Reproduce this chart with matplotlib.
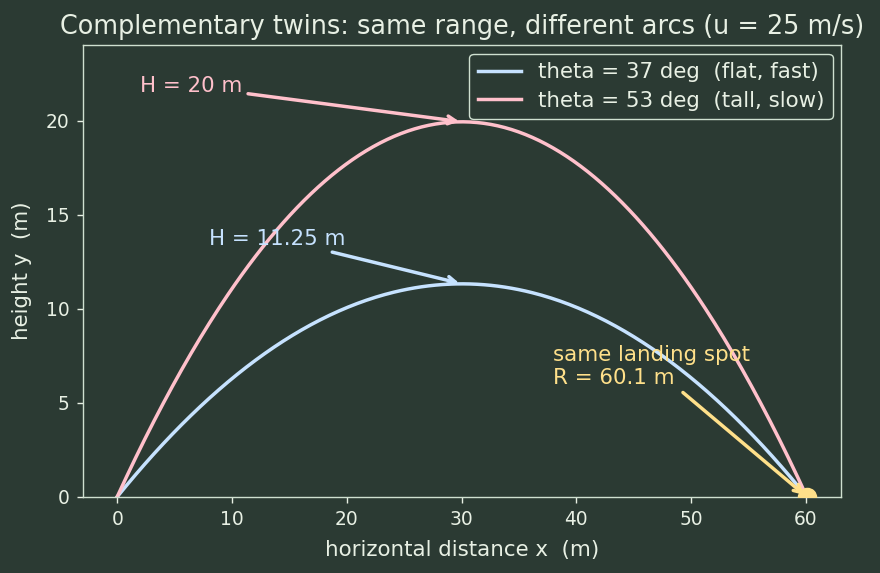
import numpy as np
import matplotlib
matplotlib.use("Agg")
import matplotlib.pyplot as plt

# 投射条件
u = 25.0          # m/s
g = 10.0          # m/s^2
angles_deg = [37, 53]
labels = ["theta = 37 deg  (flat, fast)", "theta = 53 deg  (tall, slow)"]
colors = ["#c6e2ff", "#ffc0cb"]
height_notes = ["H = 11.25 m", "H = 20 m"]
range_note = "same landing spot\nR = 60.1 m"

BG = "#2b3a33"
FG = "#e8f0e4"
EDGE = "#cfe0d0"
YELLOW = "#ffe08a"

plt.rcParams["font.family"] = ["DejaVu Sans"]
fig, ax = plt.subplots(figsize=(8.8, 5.73), dpi=100)
fig.patch.set_facecolor(BG)
ax.set_facecolor(BG)

R = u ** 2 * np.sin(np.radians(2 * angles_deg[0])) / g
for th, lab, c in zip(angles_deg, labels, colors):
    t = np.radians(th)
    T = 2 * u * np.sin(t) / g
    tt = np.linspace(0, T, 300)
    x = u * np.cos(t) * tt
    y = u * np.sin(t) * tt - 0.5 * g * tt ** 2
    ax.plot(x, y, color=c, lw=2.5, label=lab)

arrow = dict(arrowstyle="->", lw=2.5, mutation_scale=14)

# 最高点の注釈
apex = [(R / 2, u ** 2 * np.sin(np.radians(a)) ** 2 / (2 * g)) for a in angles_deg]
ax.annotate(height_notes[0], xy=apex[0], xytext=(8, 13.4), color=colors[0],
            fontsize=15.4, arrowprops=dict(arrow, color=colors[0]))
ax.annotate(height_notes[1], xy=apex[1], xytext=(2, 21.5), color=colors[1],
            fontsize=15.4, arrowprops=dict(arrow, color=colors[1]))

# 着地点
ax.scatter([R], [0], s=170, color=YELLOW, zorder=5)
ax.annotate(range_note, xy=(R, 0), xytext=(38, 6), color=YELLOW,
            fontsize=15.4, arrowprops=dict(arrow, color=YELLOW))

ax.set_ylim(0, 24)
ax.set_title("Complementary twins: same range, different arcs (u = 25 m/s)",
             color=FG, fontsize=18.4, pad=8)
ax.set_xlabel("horizontal distance x  (m)", color=FG, fontsize=15.4, labelpad=8)
ax.set_ylabel("height y  (m)", color=FG, fontsize=15.4, labelpad=10)
ax.tick_params(colors=FG, labelsize=13.4, length=4.5, width=1.0, pad=5)
for s in ax.spines.values():
    s.set_color(EDGE)
    s.set_linewidth(1.0)

leg = ax.legend(loc="upper right", fontsize=15.4, facecolor=BG, edgecolor=EDGE,
                framealpha=1, borderaxespad=0.4, labelspacing=0.4)
leg.get_frame().set_linewidth(1.0)
for line in leg.get_lines():
    line.set_linewidth(2.5)
for txt in leg.get_texts():
    txt.set_color(FG)

fig.subplots_adjust(left=0.094, right=0.956, top=0.921, bottom=0.133)
fig.savefig("out.png", facecolor=BG)
